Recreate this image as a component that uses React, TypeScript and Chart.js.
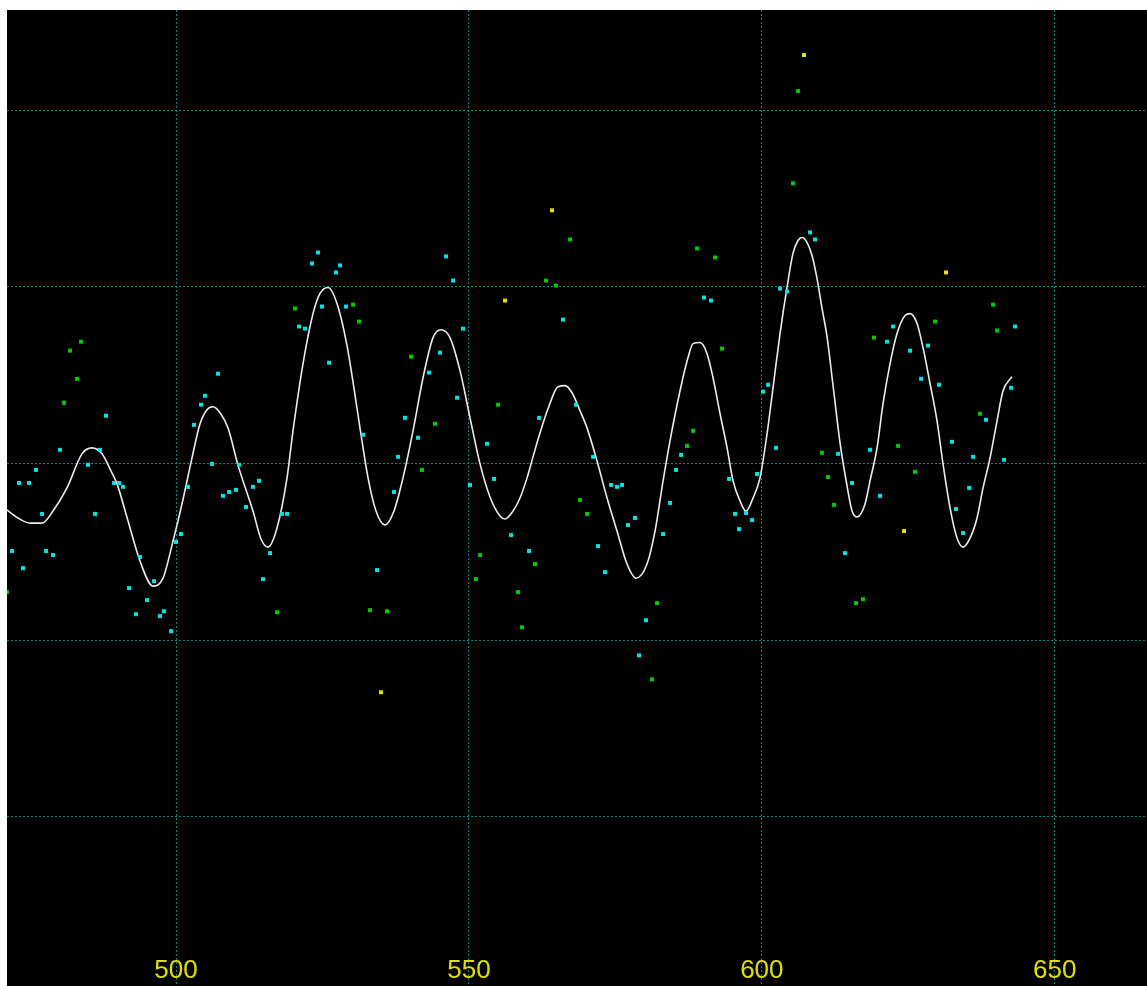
import React, { useEffect, useRef } from "react";
import { Chart, registerables } from "chart.js";

Chart.register(...registerables);

// x axis (wavelength-like units) and tick labels
const xMin = 471.15;
const xMax = 665.75;
const xTicks = [500, 550, 600, 650];
const yMin = -0.959;
const yMax = 4.567;
const yTicks = [0, 1, 2, 3, 4];

// smooth white curve
const curveX = [
  471.15, 473.03, 475.08, 477.13, 479.0, 481.39, 483.95, 485.66, 487.37, 488.73, 489.93, 491.81, 493.85, 496.07,
  497.78, 499.49, 501.02, 502.73, 504.1, 505.29, 506.32, 507.51, 508.88, 510.58, 513.14, 514.51, 515.71, 517.24,
  518.95, 519.97, 521.68, 523.39, 524.58, 525.95, 527.48, 529.19, 530.22, 531.41, 532.78, 534.14, 535.68, 537.21,
  538.75, 540.46, 542.17, 543.87, 545.24, 546.77, 548.48, 550.19, 551.9, 553.6, 555.31, 556.16, 557.53, 558.72,
  559.92, 560.94, 562.14, 563.5, 565.21, 566.41, 567.6, 568.97, 570.16, 571.87, 573.58, 575.28, 576.99, 578.53,
  580.4, 581.77, 583.14, 584.33, 586.04, 587.4, 588.26, 589.45, 590.65, 591.67, 592.87, 594.07, 595.09, 596.28,
  597.3, 598.5, 599.69, 600.89, 601.91, 603.11, 604.3, 605.32, 606.18, 606.86, 607.71, 608.57, 609.42, 610.28,
  611.13, 612.16, 613.35, 614.55, 615.4, 616.25, 617.62, 618.47, 619.67, 620.69, 621.89, 623.08, 624.45, 625.3,
  626.5, 627.52, 628.72, 629.91, 630.93, 632.13, 633.32, 634.35, 635.54, 636.74, 637.76, 638.96, 640.15, 641.18,
  642.71,
];
const curveY = [
  1.736, 1.691, 1.662, 1.662, 1.73, 1.861, 2.054, 2.088, 2.054, 1.969, 1.884, 1.674, 1.447, 1.305,
  1.35, 1.56, 1.77, 2.031, 2.224, 2.304, 2.321, 2.287, 2.2, 1.99, 1.73, 1.572, 1.526, 1.634,
  1.918, 2.184, 2.565, 2.848, 2.962, 2.996, 2.905, 2.667, 2.46, 2.2, 1.918, 1.73, 1.651, 1.73,
  1.918, 2.184, 2.485, 2.712, 2.757, 2.712, 2.525, 2.258, 1.997, 1.81, 1.702, 1.685, 1.73, 1.804,
  1.918, 2.037, 2.173, 2.309, 2.434, 2.44, 2.4, 2.298, 2.201, 2.014, 1.804, 1.617, 1.43, 1.35,
  1.43, 1.617, 1.901, 2.128, 2.411, 2.599, 2.678, 2.684, 2.621, 2.485, 2.281, 2.088, 1.901, 1.787,
  1.73, 1.804, 1.918, 2.167, 2.428, 2.735, 2.996, 3.189, 3.262, 3.279, 3.251, 3.177, 3.047, 2.877,
  2.718, 2.44, 2.116, 1.872, 1.73, 1.696, 1.77, 1.901, 2.088, 2.338, 2.565, 2.735, 2.837, 2.848,
  2.792, 2.655, 2.451, 2.241, 1.997, 1.748, 1.577, 1.526, 1.577, 1.691, 1.861, 2.031, 2.241, 2.411,
  2.491,
];

// cyan points
const cyanX = [
  472.0, 473.2, 474.91, 476.1, 477.13, 477.81, 479.0, 473.88, 480.2, 484.98, 487.03, 486.17, 488.05, 489.42,
  490.27, 490.95, 493.85, 491.98, 496.24, 495.05, 493.17, 497.27, 497.95, 499.15, 500.0, 500.85, 502.05, 503.07,
  504.27, 504.95, 507.17, 506.15, 510.75, 508.02, 509.05, 510.24, 513.14, 514.17, 511.95, 516.05, 514.85, 518.1,
  518.95, 523.22, 524.24, 527.31, 528.0, 524.92, 529.02, 521.0, 522.02, 526.12, 531.92, 534.31, 537.9, 541.31,
  539.09, 537.21, 543.19, 545.07, 546.09, 547.29, 548.99, 547.97, 550.19, 553.09, 554.29, 557.19, 560.26, 561.97,
  566.06, 568.28, 571.19, 574.26, 575.28, 576.14, 578.35, 577.16, 572.04, 573.23, 583.14, 584.33, 585.36, 586.21,
  580.23, 579.04, 590.13, 591.32, 594.4, 595.43, 597.3, 596.11, 598.33, 599.18, 600.2, 601.06, 602.42, 603.11,
  604.3, 608.23, 609.08, 613.01, 614.2, 615.4, 618.47, 620.18, 622.4, 621.37, 625.3, 628.37, 627.18, 630.25,
  642.54, 638.27, 632.47, 636.06, 641.35, 635.38, 633.15, 634.35, 643.22,
];
const cyanY = [
  1.504, 1.889, 1.889, 1.963, 1.714, 1.504, 1.481, 1.407, 2.077, 1.992, 2.077, 1.714, 2.27, 1.889,
  1.889, 1.867, 1.47, 1.294, 1.333, 1.226, 1.146, 1.135, 1.163, 1.05, 1.555, 1.6, 1.867, 2.218,
  2.332, 2.383, 2.508, 1.997, 1.992, 1.816, 1.838, 1.85, 1.867, 1.901, 1.753, 1.492, 1.345, 1.714,
  1.714, 3.132, 3.194, 3.081, 3.121, 2.888, 2.888, 2.775, 2.763, 2.57, 2.162, 1.396, 2.037, 2.145,
  2.258, 1.838, 2.514, 2.627, 3.172, 3.035, 2.763, 2.372, 1.878, 2.111, 1.912, 1.594, 1.504, 2.258,
  2.814, 2.332, 2.037, 1.878, 1.867, 1.878, 1.691, 1.651, 1.532, 1.384, 1.6, 1.776, 1.963, 2.048,
  1.112, 0.913, 2.939, 2.922, 1.912, 1.714, 1.719, 1.628, 1.679, 1.94, 2.406, 2.445, 2.088, 2.99,
  2.973, 3.308, 3.268, 2.054, 1.492, 1.889, 2.077, 1.816, 2.775, 2.689, 2.638, 2.667, 2.479, 2.445,
  2.428, 2.247, 2.122, 2.037, 2.02, 1.861, 1.742, 1.606, 2.775,
];

// green points
const greenX = [
  471.15, 480.88, 481.91, 483.1, 483.78, 517.24, 520.31, 530.22, 531.24, 533.12, 536.02, 540.12, 544.21, 541.99,
  554.97, 551.9, 551.21, 561.28, 558.38, 559.06, 563.16, 564.87, 567.26, 568.97, 570.16, 582.11, 581.26, 587.23,
  588.26, 588.94, 592.01, 593.2, 605.32, 606.18, 610.28, 611.3, 612.33, 616.08, 617.27, 619.15, 623.25, 626.15,
  629.57, 637.25, 639.47, 640.15,
];
const greenY = [
  1.271, 2.343, 2.638, 2.479, 2.689, 1.157, 2.877, 2.899, 2.803, 1.169, 1.163, 2.604, 2.224, 1.963,
  2.332, 1.481, 1.345, 1.43, 1.271, 1.072, 3.035, 3.007, 3.268, 1.793, 1.714, 1.209, 0.777, 2.099,
  2.184, 3.217, 3.166, 2.65, 3.586, 4.108, 2.06, 1.923, 1.765, 1.209, 1.231, 2.712, 2.099, 1.952,
  2.803, 2.281, 2.899, 2.752,
];

// yellow points
const yellowX = [535.0, 556.16, 564.19, 607.2, 624.28, 631.44];
const yellowY = [0.704, 2.922, 3.433, 4.312, 1.617, 3.081];

const toXY = (xs: number[], ys: number[]) => xs.map((x, i) => ({ x, y: ys[i] }));

export default function App() {
  const ref = useRef<HTMLCanvasElement | null>(null);

  useEffect(() => {
    if (!ref.current) return;
    const gridColor = "#008a8a";
    const pointDs = (label: string, xs: number[], ys: number[], color: string) => ({
      type: "scatter" as const,
      label,
      data: toXY(xs, ys),
      pointStyle: "rect",
      pointRadius: 2.8,
      pointBorderWidth: 0,
      borderWidth: 0,
      backgroundColor: color,
      pointBackgroundColor: color,
      order: 1,
    });
    const chart = new Chart(ref.current, {
      type: "scatter",
      data: {
        datasets: [
          {
            type: "line",
            label: "fit",
            data: toXY(curveX, curveY),
            borderColor: "#ececec",
            borderWidth: 1.6,
            pointRadius: 0,
            cubicInterpolationMode: "monotone",
            fill: false,
            order: 5,
          } as any,
          pointDs("cyan", cyanX, cyanY, "#00e6e6"),
          pointDs("green", greenX, greenY, "#00cc00"),
          pointDs("yellow", yellowX, yellowY, "#e6e600"),
        ],
      },
      options: {
        responsive: false,
        animation: false,
        layout: { padding: 0, autoPadding: false },
        plugins: { legend: { display: false }, tooltip: { enabled: false } },
        scales: {
          x: {
            type: "linear",
            position: "bottom",
            min: xMin,
            max: xMax,
            afterBuildTicks: (axis: any) => {
              axis.ticks = xTicks.map((v) => ({ value: v }));
            },
            grid: { color: gridColor, lineWidth: 1, drawTicks: false },
            border: { display: false, dash: [2, 2] },
            ticks: {
              mirror: true,
              padding: 0,
              autoSkip: false,
              maxRotation: 0,
              color: "#e0e000",
              font: { family: "'Liberation Sans', Arial, sans-serif", size: 26 },
            },
          },
          y: {
            type: "linear",
            min: yMin,
            max: yMax,
            afterBuildTicks: (axis: any) => {
              axis.ticks = yTicks.map((v) => ({ value: v }));
            },
            grid: { color: gridColor, lineWidth: 1, drawTicks: false },
            border: { display: false, dash: [2, 2] },
            ticks: { display: false },
          },
        },
      },
    } as any);
    return () => chart.destroy();
  }, []);

  return (
    <div
      style={{
        position: "absolute",
        left: 7,
        top: 10,
        width: 1140,
        height: 976,
        background: "#000",
      }}
    >
      <canvas ref={ref} width={1140} height={976} style={{ display: "block" }} />
    </div>
  );
}
